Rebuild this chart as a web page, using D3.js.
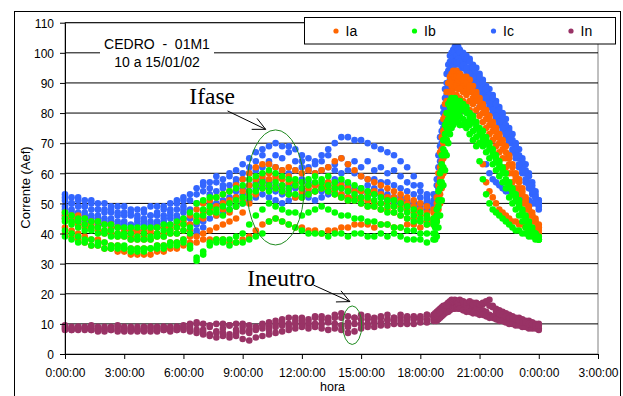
<!DOCTYPE html>
<html>
<head>
<meta charset="utf-8">
<script src="https://cdn.jsdelivr.net/npm/d3@7"></script>
<style>
  html, body { margin: 0; padding: 0; background: #fff; }
  svg { display: block; font-family: "Liberation Sans", Arial, sans-serif; }
</style>
</head>
<body>
<svg id="chart" width="623" height="396"></svg>
<script>
// Sample instants, minutes after midnight (20-min steps, 5-min during the evening ramp, 10-min afterwards)
const minutos = [
  0,20,40,60,80,100,120,140,160,180,200,220,240,260,280,300,320,340,360,380,400,420,440,460,
  480,500,520,540,560,580,600,620,640,660,680,700,720,740,760,780,800,820,840,860,880,900,920,
  940,960,980,1000,1020,1040,1060,1080,1100,1120,
  1125,1130,1135,1140,1145,1150,1155,1160,1165,1170,1175,1180,1185,1190,1195,1200,
  1210,1220,1230,1240,1250,1260,1270,1280,1290,1300,1310,1320,1330,1340,1350,1360,1370,1380,
  1390,1400,1410,1420,1430,1440
];

// Phase C current (A), one row per day
const ic1 = [53,52,52, 51,51,50, 50,49,49, 49,48,48, 48,49,49, 49,50,51, 52,53,55, 56,57,57, 58,59,61, 63,65,67, 68,69,70, 69,69,68, 66,65,64, 66,68,70, 72,72,71, 71,70,69, 68,67,66, 64,62,59, 56,53,51,
  52,58,66,72,77,82,88,93,96,99,100,101,102,101,102,101,
  100,99,98,96,95,93,91,89,88,86,84,82,80,78,75,73,70,68,65,63,60,57,54,51];
const ic2 = [51,50,49, 49,48,48, 47,47,46, 46,46,45, 45,46,46, 46,47,48, 49,51,53, 54,53,54, 55,56,57, 58,60,61, 62,63,62, 61,60,61, 62,61,60, 61,62,61, 60,61,60, 59,58,58, 57,57,56, 55,54,53, 52,51,50,
  50,53,58,64,70,75,81,86,90,94,96,98,99,100,99,99,
  98,97,95,94,92,90,88,87,85,83,81,79,77,75,72,70,67,65,62,60,57,55,52,50];
const ic3 = [48,47,47, 46,46,45, 45,44,44, 43,43,43, 43,43,44, 44,45,46, 47,45,41, 44,48,50, 51,52,54, 55,56,57, 58,57,56, 55,56,57, 58,57,56, 56,57,58, 57,56,55, 55,56,55, 54,53,52, 51,50,50, 49,49,49,
  49,51,55,60,66,72,77,82,86,90,93,95,96,97,97,96,
  95,94,92,91,89,87,85,84,82,80,78,76,74,72,70,67,65,62,60,57,55,53,51,49];
const ic4 = [46,45,45, 44,44,43, 43,42,42, 41,41,41, 42,42,42, 43,43,44, 45,43,40, 42,45,46, 47,48,49, 50,51,52, 53,52,51, 50,51,52, 53,52,51, 52,53,54, 53,52,52, 52,53,53, 52,51,50, 50,49,49, 48,48,48,
  48,49,52,56,61,67,73,78,83,87,90,92,93,94,94,93,
  92,91,89,87,85,82,72,63,60,58,57,56,55,54,54,53,53,52,52,51,51,50,50,48];
const ic5 = [52,50,51, 49,50,48, 48,48,47, 47,47,46, 47,46,47, 48,48,50, 51,48,50, 57,55,59, 56,60,58, 60,62,64, 66,64,66, 65,67,64, 64,62,63, 64,66,63, 65,63,64, 62,64,61, 62,60,61, 59,57,56, 54,52,53,
  51,56,62,69,74,80,85,90,94,97,99,100,100,99,101,100,
  99,98,97,95,93,92,90,88,86,85,83,81,79,76,74,71,69,66,64,61,59,56,53,51];
const ic6 = [49,48,46, 47,45,46, 44,45,43, 44,42,44, 44,44,43, 45,46,45, 48,46,43, 47,50,49, 50,50,52, 53,54,55, 56,55,54, 53,54,55, 55,54,54, 54,55,56, 55,54,54, 54,54,53, 53,52,51, 52,51,50, 50,50,50,
  50,52,56,62,68,74,79,84,88,91,94,96,97,97,98,97,
  96,95,93,92,90,88,86,85,83,81,79,77,75,73,71,68,66,63,61,58,56,54,52,50];

// Phase A current (A)
const ia1 = [47,46,46, 45,44,44, 43,43,42, 41,41,41, 41,41,42, 42,42,43, 44,46,48, 50,51,52, 53,54,56, 58,60,62, 63,63,62, 61,62,61, 60,61,60, 61,62,64, 65,63,61, 59,58,57, 56,55,54, 53,52,51, 50,49,48,
  48,52,60,67,72,78,83,87,90,92,93,94,93,94,93,93,
  92,92,91,89,87,85,83,81,79,77,75,73,71,69,66,63,60,58,55,52,49,47,45,43];
const ia2 = [45,44,43, 42,42,41, 40,40,39, 39,38,38, 38,38,39, 39,40,40, 41,43,45, 47,48,49, 50,51,52, 54,56,58, 59,60,59, 58,57,56, 54,55,56, 56,55,54, 53,52,52, 51,51,50, 50,50,49, 49,48,47, 46,46,45,
  45,47,52,58,64,70,75,80,84,87,89,90,91,90,91,90,
  89,88,87,85,84,82,80,78,76,74,72,70,68,65,63,60,58,55,53,50,48,46,44,42];
const ia3 = [42,41,40, 39,38,38, 37,36,36, 35,35,35, 35,35,36, 36,37,37, 38,39,37, 40,41,42, 43,44,45, 47,50,53, 55,56,55, 54,53,52, 52,53,54, 55,54,53, 52,51,51, 50,49,49, 48,48,47, 46,45,45, 44,44,44,
  44,45,48,53,59,65,71,76,80,84,86,88,89,89,88,88,
  87,86,84,83,81,79,77,75,73,71,69,67,65,62,60,57,55,53,50,48,46,44,42,41];
const ia4 = [40,39,38, 37,36,36, 35,35,34, 34,33,33, 33,33,34, 34,35,35, 36,37,39, 38,38,38, 38,37,37, 38,39,41, 43,44,45, 44,43,42, 42,41,41, 40,41,41, 42,42,43, 43,43,42, 43,43,42, 42,43,43, 42,43,43,
  43,44,46,50,55,60,66,71,76,80,83,85,86,86,85,85,
  84,83,81,79,77,70,63,57,54,52,50,48,47,46,45,44,44,43,43,42,42,41,41,40];
const ia5 = [46,45,44, 43,43,42, 41,42,40, 40,39,40, 39,40,40, 40,41,42, 43,41,44, 45,47,46, 48,47,49, 51,53,56, 57,58,58, 56,59,57, 55,56,54, 55,57,56, 56,55,54, 54,53,54, 53,52,52, 51,50,49, 48,47,47,
  46,50,56,62,68,74,79,84,87,90,91,92,92,92,91,92,
  91,90,89,87,86,84,82,80,78,76,74,72,70,67,65,62,59,57,54,51,48,46,44,42];

// Phase B current (A)
const ib1 = [47,46,45, 45,44,44, 43,43,42, 42,42,42, 42,42,42, 43,43,44, 45,47,50, 51,52,52, 53,54,55, 56,58,59, 60,61,60, 59,58,58, 57,58,59, 58,59,57, 58,57,56, 55,54,53, 52,51,51, 50,49,48, 47,46,45,
  44,48,54,60,66,71,76,80,83,84,85,84,85,84,84,84,
  83,82,80,79,77,75,74,72,70,68,66,64,62,60,57,55,53,51,48,46,44,42,40,39];
const ib2 = [44,43,42, 41,41,40, 40,39,39, 39,38,38, 38,38,39, 39,40,40, 41,42,44, 46,47,48, 49,50,51, 52,54,56, 57,56,55, 54,53,53, 52,53,54, 55,54,53, 52,51,51, 50,49,49, 48,47,47, 46,45,44, 44,43,43,
  42,44,49,55,61,66,71,75,78,80,81,82,82,81,82,81,
  81,80,78,77,75,73,71,70,68,66,64,62,60,57,55,53,51,49,46,44,42,40,39,38];
const ib3 = [41,40,39, 38,38,37, 37,36,36, 36,35,35, 35,35,36, 36,37,37, 38,36,32, 34,37,38, 38,38,39, 40,43,46, 48,50,49, 48,47,47, 46,47,48, 49,48,47, 46,46,45, 45,44,44, 43,43,42, 42,41,41, 40,40,40,
  40,42,46,51,57,62,67,71,74,77,78,79,79,80,79,79,
  78,77,76,74,72,70,69,67,65,63,61,59,57,55,52,50,48,46,44,42,41,40,39,38];
const ib4 = [39,38,37, 37,36,36, 35,35,35, 35,34,34, 34,35,35, 35,36,36, 37,35,31, 33,36,37, 37,36,37, 37,38,39, 40,44,45, 44,43,42, 41,40,40, 40,39,40, 40,39,40, 40,39,39, 40,39,40, 39,38,38, 38,37,38,
  38,39,42,46,51,56,61,66,70,73,75,76,77,77,77,76,
  76,75,73,71,69,64,58,53,50,48,47,46,45,44,43,42,41,41,40,40,39,39,38,38];
const ib5 = [45,44,44, 43,42,42, 41,41,40, 40,40,39, 40,39,40, 41,41,42, 43,40,46, 48,49,47, 46,48,49, 50,52,54, 55,54,57, 56,55,56, 55,56,57, 57,56,55, 55,54,53, 52,52,51, 50,49,49, 48,47,46, 45,45,44,
  43,46,51,57,63,68,73,77,80,82,83,83,84,83,83,83,
  82,81,79,78,76,74,72,71,69,67,65,63,61,58,56,54,52,50,47,45,43,41,40,38];

// Neutral current (A)
const in1 = [9,9,9, 9,9,9, 8.5,9,9, 9,8.5,9, 9,9,9, 9,9,9, 9.5,10,10, 10,9.5,10, 10,9.5,10, 10,9.5,9, 10,10.5,11, 11.5,12,12, 12,11.5,12, 11.5,12,12, 12,12.5,12, 11.5,11.5,12, 12,11.5,12, 12,12,12.5, 12.5,13,13,
  13.5,14,14.5,15,15.5,16,16,16.5,17,17,17,17.5,17,17.5,17,17,
  17,16.5,17,17,16.5,16,16.5,17,18,16,15,14.5,14,13.5,13,12.5,12,12,11.5,11,11,10.5,10,10];
const in2 = [8,8,8.5, 8,8,7.5, 8,8,7.5, 7.5,8,8, 8,7.5,8, 8,8,8, 8,7.5,7, 7,6.5,7, 7,6.5,7, 7.5,8,8, 8.5,9,9, 9.5,10,10, 10,9.5,10, 10,10.5,10, 9.5,9,10, 10,10,10.5, 10.5,11,11, 11,11,11.5, 11.5,11.5,12,
  12,12.5,13,13.5,14,14.5,15,15,15.5,16,16,16,16.5,16,16,16.5,
  16,16,15.5,15.5,15,15,14.5,14,13,12.5,12,11.5,11,11,10.5,10.5,10,10,9.5,9.5,9,9,9,8.5];
const in3 = [8.5,8,8, 8.5,8,8, 7.5,8,8, 8,7.5,7.5, 7.5,8,7.5, 8,7.5,8, 8.5,9,8, 6.5,6,5.5, 6,5.5,6, 5,4.5,5.5, 6,6.5,7, 7.5,8,8.5, 9,8.5,9, 8.5,8,8.5, 8,7,7.5, 8.5,9,9, 9.5,9.5,10, 10,10,10, 10.5,10.5,11,
  11,11,11.5,12,12.5,13,13.5,14,14,14.5,15,15,15,15.5,15,15,
  14.5,14,14,13.5,13.5,13,13,12.5,12,12,11.5,11,11,10.5,10,10,9.5,9.5,9,9,8.5,8.5,8.5,8];
const in4 = [9.5,8.5,9, 8.5,9.5,8.5, 9,8.5,9.5, 8.5,9,8, 8.5,9,8.5, 9,8.5,9, 9,8,10.5, 8,9,7.5, 8.5,9.5,8, 9,7,8.5, 9.5,8,10, 10.5,9,11, 11,10.5,12.5, 12.5,11,13, 13.5,10.5,12, 13,12.5,11.5, 12.5,13,12, 13,12.5,12, 12,13,12.5,
  12.5,13,13.5,14,15,15.5,16,16,17,17.5,18,17.5,18,17.5,17,18,
  17.5,17,17.5,16.5,17,16.5,17,17.5,16,15.5,14,13.5,13,12.5,12,12,11.5,11,10.5,10.5,10,10,9.5,9.5];

// Axis ticks
const xTicks = [0,180,360,540,720,900,1080,1260,1440,1620];
const xTickLabels = ["0:00:00","3:00:00","6:00:00","9:00:00","12:00:00","15:00:00","18:00:00","21:00:00","0:00:00","3:00:00"];
const yTicks = [0,10,20,30,40,50,60,70,80,90,100,110];

// Series (drawing order) and legend order
const series = [
  { nome: "Ic", cor: "#3366FF", dias: [ic1, ic2, ic3, ic4, ic5, ic6] },
  { nome: "Ia", cor: "#FF6600", dias: [ia1, ia2, ia3, ia4, ia5] },
  { nome: "Ib", cor: "#00FF00", dias: [ib1, ib2, ib3, ib4, ib5] },
  { nome: "In", cor: "#993366", dias: [in1, in2, in3, in4] }
];
const legenda = ["Ia", "Ib", "Ic", "In"];

// Call-outs, placed in data coordinates (minutes, amperes)
const rotulos = [
  { texto: "Ifase",   m: 378, v: 83.0 },
  { texto: "Ineutro", m: 554, v: 22.6 }
];
const setas = [
  { m1: 494, v1: 80.7, m2: 610, v2: 74.6 },
  { m1: 755, v1: 22.9, m2: 866, v2: 17.4 }
];
const elipses = [
  { m: 640, v: 55.3, dm: 87, dv: 19.1 },
  { m: 873, v: 9.56, dm: 29, dv: 6.4 }
];

series.forEach(s => s.dias.forEach((d, i) => {
  if (d.length !== minutos.length) throw new Error(s.nome + (i + 1) + " has " + d.length + " values");
}));

const svg = d3.select("#chart");
const x = d3.scaleLinear().domain([0, 1620]).range([65, 598]);
const y = d3.scaleLinear().domain([0, 110]).range([354, 22.7]);

// outer chart frame
svg.append("rect")
  .attr("x", 14.5).attr("y", 11.5).attr("width", 606).attr("height", 400)
  .attr("fill", "#fff").attr("stroke", "#000").attr("stroke-width", 1);

// plot area border
svg.append("rect")
  .attr("x", x(0)).attr("y", y(110))
  .attr("width", x(1620) - x(0)).attr("height", y(0) - y(110))
  .attr("fill", "none").attr("stroke", "#808080").attr("stroke-width", 1);

// horizontal gridlines
svg.append("g").selectAll("line")
  .data(yTicks.filter(t => t > 0))
  .join("line")
  .attr("x1", x(0)).attr("x2", x(1620))
  .attr("y1", d => y(d)).attr("y2", d => y(d))
  .attr("stroke", "#000").attr("stroke-width", 1);

// data points
const plot = svg.append("g");
series.forEach(s => {
  const g = plot.append("g").attr("fill", s.cor);
  s.dias.forEach(d => {
    g.selectAll(null)
      .data(minutos.map((m, i) => ({ m, v: d[i] })))
      .join("circle")
      .attr("cx", p => x(p.m))
      .attr("cy", p => y(p.v))
      .attr("r", 3.3);
  });
});

// axes
const xAxis = d3.axisBottom(x)
  .tickValues(xTicks)
  .tickFormat((d, i) => xTickLabels[i])
  .tickSize(5).tickSizeOuter(0).tickPadding(9.5);
const gx = svg.append("g").attr("transform", `translate(0,${y(0)})`).call(xAxis);

const yAxis = d3.axisLeft(y)
  .tickValues(yTicks)
  .tickSize(5).tickSizeOuter(0).tickPadding(6);
const gy = svg.append("g").attr("transform", `translate(${x(0)},0)`).call(yAxis);

[gx, gy].forEach(g => {
  g.attr("font-family", "'Liberation Sans', Arial, sans-serif").attr("font-size", 12);
  g.selectAll("path, line").attr("stroke", "#000").attr("stroke-width", 1);
  g.selectAll("text").attr("fill", "#000");
});
gy.selectAll("text").attr("dy", "0.4em");

// axis titles
svg.append("text")
  .attr("transform", "translate(30,187.5) rotate(-90)")
  .attr("text-anchor", "middle").attr("font-size", 13)
  .text("Corrente (Aef)");
svg.append("text")
  .attr("x", 332.5).attr("y", 391)
  .attr("text-anchor", "middle").attr("font-size", 12.5)
  .text("hora");

// chart title with its white backing
svg.append("rect").attr("x", 100).attr("y", 33).attr("width", 114).attr("height", 38).attr("fill", "#fff");
const titulo = svg.append("text").attr("text-anchor", "middle").attr("font-size", 14).style("white-space", "pre");
titulo.append("tspan").attr("x", 157).attr("y", 49).text("CEDRO  -  01M1");
titulo.append("tspan").attr("x", 157).attr("y", 66.5).text("10 a 15/01/02");

// legend
const leg = svg.append("g");
leg.append("rect")
  .attr("x", 304.5).attr("y", 17.5).attr("width", 311).attr("height", 26.5)
  .attr("fill", "#fff").attr("stroke", "#000").attr("stroke-width", 1);
const legX = [336, 414.5, 493.5, 571];
legenda.forEach((nome, i) => {
  const s = series.find(z => z.nome === nome);
  leg.append("circle").attr("cx", legX[i]).attr("cy", 31).attr("r", 2.6).attr("fill", s.cor);
  leg.append("text").attr("x", legX[i] + 9.5).attr("y", 35.5).attr("font-size", 14).text(nome);
});

// call-outs
const notas = svg.append("g");
elipses.forEach(e => {
  notas.append("ellipse")
    .attr("cx", x(e.m)).attr("cy", y(e.v))
    .attr("rx", x(e.m + e.dm) - x(e.m)).attr("ry", y(e.v - e.dv) - y(e.v))
    .attr("fill", "none").attr("stroke", "#1f8a1f").attr("stroke-width", 1);
});
setas.forEach(a => {
  const x1 = x(a.m1), y1 = y(a.v1), x2 = x(a.m2), y2 = y(a.v2);
  const ang = Math.atan2(y1 - y2, x1 - x2);
  const L = 14, abre = 0.45;
  const p = d3.path();
  p.moveTo(x1, y1); p.lineTo(x2, y2);
  p.moveTo(x2 + L * Math.cos(ang - abre), y2 + L * Math.sin(ang - abre));
  p.lineTo(x2, y2);
  p.lineTo(x2 + L * Math.cos(ang + abre), y2 + L * Math.sin(ang + abre));
  notas.append("path").attr("d", p.toString())
    .attr("fill", "none").attr("stroke", "#000").attr("stroke-width", 1);
});
rotulos.forEach(r => {
  notas.append("text")
    .attr("x", x(r.m)).attr("y", y(r.v))
    .attr("font-family", "'Liberation Serif', 'Times New Roman', serif")
    .attr("font-size", 23.5).attr("fill", "#000")
    .text(r.texto);
});
</script>
</body>
</html>
